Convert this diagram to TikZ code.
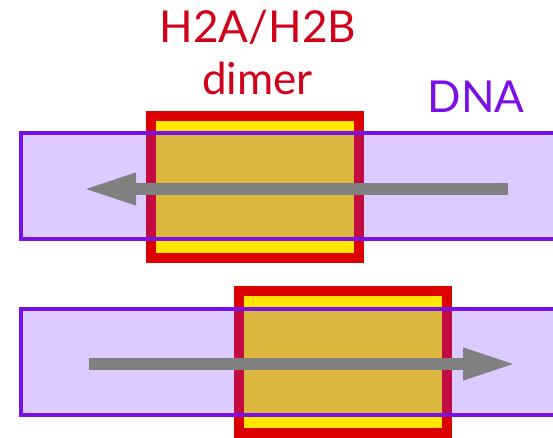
\documentclass[tikz,border=0pt]{standalone}
\usepackage{fontspec}
\setmainfont{Lato}
\usepackage{tikz}
\usetikzlibrary{arrows.meta}
\definecolor{dimerRed}{HTML}{DC0000}
\definecolor{dimerYellow}{HTML}{FFE600}
\definecolor{dnaTint}{RGB}{118,46,255}
\definecolor{dnaColor}{HTML}{7A10E6}
\definecolor{labelRed}{HTML}{D0001A}
\definecolor{arrowGrey}{HTML}{808080}

\begin{document}
\begin{tikzpicture}[x=1pt, y=-1pt, >={Triangle[length=54pt, width=29pt]}]
			\tikzset{
				dimer/.style={draw=dimerRed, line width=10pt, fill=dimerYellow,
					minimum width=208pt, minimum height=142pt, inner sep=0pt, outer sep=0pt},
				dna/.style={draw=dnaColor, line width=4pt, fill=dnaTint, fill opacity=0.25,
					draw opacity=1, minimum width=600pt, minimum height=106pt, inner sep=0pt, outer sep=0pt},
				fio/.style={->, line width=12pt, arrowGrey},
				rotulo/.style={anchor=base, font=\fontsize{44}{48}\selectfont}
			}
			\useasboundingbox (0,0) rectangle (553,438);
			\clip (0,0) rectangle (553,438);
			% histone dimers under the DNA
			\node[dimer] (d1) at (255,187) {};
			\node[dimer] (d2) at (342.5,361.5) {};
			% DNA strands
			\node[dna] (s1) at (320.5,186) {};
			\node[dna] (s2) at (320.5,362) {};
			% labels
			\node[rotulo, text=labelRed] (t1) at (258,43) {H2A/H2B};
			\node[rotulo, text=labelRed] (t2) at (257.5,95) {dimer};
			\node[rotulo, text=dnaColor] (t3) at (476,113) {DNA};
			% direction of the strands
			\coordinate (a1) at (508,189);
			\coordinate (b1) at (82,189);
			\coordinate (a2) at (89,364);
			\coordinate (b2) at (517,364);
			\draw[fio] (a1) -- (b1);
			\draw[fio] (a2) -- (b2);
		\end{tikzpicture}
\end{document}
